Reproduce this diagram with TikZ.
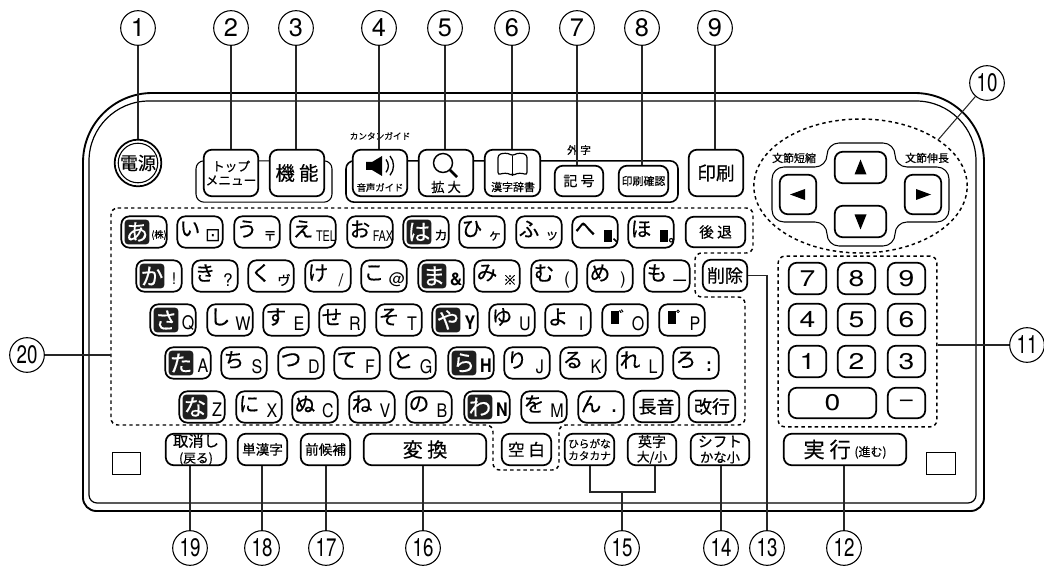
\documentclass[tikz,border=0pt]{standalone}
\usepackage{fontspec}
\setmainfont[FakeBold=0.4]{Noto Sans CJK JP}
\newfontfamily\latinfont{TeX Gyre Heros}
\newfontfamily\narrowfont[FakeStretch=0.74]{TeX Gyre Heros}
\newfontfamily\letterfont[FakeStretch=0.86]{TeX Gyre Heros}
\newfontfamily\widefont[FakeStretch=1.25]{TeX Gyre Heros}
\newfontfamily\symbolfont{DejaVu Sans}
\usetikzlibrary{shapes.geometric,positioning,calc}
\newcommand{\fs}[1]{\fontsize{#1}{#1}\selectfont}
\tikzset{
  bodyline/.style={line width=1.4pt, black},
  keybox/.style={rectangle, draw, line width=1.3pt, fill=white, rounded corners=6pt, inner sep=0pt, align=center, minimum width=34pt, minimum height=23.5pt},
  groupbox/.style={rectangle, draw, rounded corners=6pt, inner sep=0pt},
  dotarea/.style={line width=1.1pt, dash pattern=on 2.6pt off 2.4pt},
  kanatext/.style={inner sep=0pt, font=\fs{15.5}},
  subtext/.style={inner sep=0pt, font=\fs{11}},
  headmark/.style={rectangle, fill=black!88, text=white, rounded corners=2.5pt, inner sep=0pt, minimum size=18.5pt, font=\fs{17}},
  keytext/.style={inner sep=0pt, align=center},
  numcircle/.style={circle, draw, line width=.8pt, inner sep=0pt, minimum size=26pt, fill=white, font=\fs{19}},
  leader/.style={line width=.8pt, black!85}
}
% plain kana key: big kana upper left, small sign lower right
\newcommand{\kanakey}[4]{%
  \node[keybox] (key#1-#2) at (#1,#2) {};
  \node[kanatext] at ($(key#1-#2)+(-10,-3)$) {#3};
  \node[subtext] at ($(key#1-#2)+(13,4)$) {#4};
}
% key whose kana sits white on black
\newcommand{\headkey}[4]{%
  \node[keybox] (key#1-#2) at (#1,#2) {};
  \node[headmark] at ($(key#1-#2)+(-7,0)$) {#3};
  \node[subtext] at ($(key#1-#2)+(15,3)$) {#4};
}
% key with text, given by its corners in pixels
\newcommand{\widekey}[7]{%
  \node[keybox, minimum width={(#4-#2-1.5)*.75pt}, minimum height={(#5-#3-1.5)*.75pt}, font=\fs{#6}] (#1) at ({(#2+#4)/2},{(#3+#5)/2}) {#7};
}
\newcommand{\dakuten}[1]{\rule[-1pt]{6pt}{10pt}\rlap{\raisebox{1pt}{\fs{11}#1}}}
\newcommand{\smallmark}[1]{\rule{6.5pt}{9pt}\rlap{\fs{11}#1}\hspace{7.5pt}}
\begin{document}
\begin{tikzpicture}[x=.75pt, y=-.75pt]
\useasboundingbox (0,0) rectangle (1044,566);

% body
\draw[bodyline] (83,300) [rounded corners=52pt] -- (83,93) -- (984,93) -- (984,300) [rounded corners=10pt] -- (984,511) -- (83,511) -- cycle;
\draw[line width=.9pt] (89,300) [rounded corners=45pt] -- (89,101) -- (976,101) -- (976,300) [rounded corners=6pt] -- (976,503) -- (89,503) -- cycle;

% dotted areas
\draw[dotarea, rounded corners=5pt] (111,208) -- (753,208) -- (753,253) -- (695,253) -- (695,297) -- (745,297) -- (745,425) -- (559,425) -- (559,470) -- (493,470) -- (493,425) -- (111,425) -- cycle;
\coordinate (kanaarea) at (111,355);
\node[ellipse, draw, dotarea, minimum width=160pt, minimum height=100.5pt, inner sep=0pt] (dpadarea) at (860.5,186) {};
\node[rectangle, draw, dotarea, rounded corners=5pt, minimum width=119pt, minimum height=128pt, inner sep=0pt] (numarea) at (857.5,341.5) {};

% thin frames behind the top keys
\node[groupbox, line width=.8pt, minimum width=102pt, minimum height=31pt] (menugroup) at (264,181.5) {};
\node[groupbox, line width=1.2pt, minimum width=249pt, minimum height=31pt] (guidegroup) at (512,181.5) {};

% top row
\node[circle, draw, line width=1.3pt, fill=white, minimum size=35pt, inner sep=0pt] (power) at (138,163) {};
\node[circle, draw, line width=.8pt, minimum size=27pt, inner sep=0pt, font=\fs{13.5}] (powerin) at (138,163) {電源};
\widekey{topmenu}{203}{149}{259}{197}{9.5}{トップ\\[1pt]メニュー}
\widekey{funckey}{269}{149}{325}{197}{14.5}{機 能}
\widekey{voicekey}{352}{149}{408}{197}{7}{}
\widekey{zoomkey}{418}{149}{474}{197}{10}{}
\widekey{dictkey}{484}{149}{541}{197}{8}{}
\widekey{signkey}{554}{165}{604}{197}{10.5}{記 号}
\widekey{checkkey}{618}{165}{669}{197}{8.2}{印刷確認}
\widekey{printkey}{688}{149}{744}{197}{14}{印刷}
\node[keytext, font=\fs{7}] (voicetext) at (380,187.5) {音声ガイド};
\node[keytext, font=\fs{10}] (zoomtext) at (446,187) {拡 大};
\node[keytext, font=\fs{8.2}] (dicttext) at (513,187) {漢字辞書};
\node[keytext, font=\fs{6.5}] (guidetitle) at (380,136) {カンタンガイド};
\node[keytext, font=\fs{8}] (gaijititle) at (579,150) {外 字};

% speaker, lens and book
\fill (366,162) -- (372,162) -- (382,156) -- (382,176) -- (372,170) -- (366,170) -- cycle;
\draw[line width=1pt] (386,159.5) arc[start angle=-40, end angle=40, radius=10];
\draw[line width=1pt] (390,156) arc[start angle=-40, end angle=40, radius=15];
\draw[line width=1.1pt] (443,163) circle[radius=9.5];
\draw[line width=2pt] (450,170) -- (457,177);
\draw[line width=.9pt, rounded corners=2pt] (512.5,176) .. controls (508,173) and (503,173) .. (498,175) -- (498,155) .. controls (503,153) and (508,153) .. (512.5,156) .. controls (517,153) and (522,153) .. (527,155) -- (527,175) .. controls (522,173) and (517,173) .. (512.5,176) -- cycle;
\draw[line width=.9pt] (512.5,156) -- (512.5,176);

% kana rows
\headkey{144}{232}{あ}{\fs{7}(株)}
\headkey{426}{232}{は}{\fs{10}カ}
\foreach \kx/\kkana/\ksub in {200/い/{\symbolfont\fs{14}⊡}, 257/う/{\fs{10}〒}, 313/え/{\narrowfont\fs{11}TEL}, 370/お/{\narrowfont\fs{11}FAX}, 482/ひ/{\fs{10}ヶ}, 539/ふ/{\fs{10}ッ}} {
  \kanakey{\kx}{232}{\kkana}{\ksub}
}
\kanakey{595}{232}{へ}{\smallmark{、}}
\kanakey{651}{232}{ほ}{\smallmark{。}}
\widekey{backkey}{685}{216}{746}{248}{11}{後 退}

\headkey{159}{276}{か}{\latinfont\fs{12}!}
\headkey{441}{276}{ま}{\textbf{\latinfont\fs{13}\&}}
\foreach \kx/\kkana/\ksub in {215/き/{\latinfont\fs{13}?}, 271/く/{\fs{10}ヴ}, 328/け/{\latinfont\fs{13}/}, 384/こ/{\latinfont\fs{12}@}, 497/み/{\fs{10}※}, 554/む/{\latinfont\fs{13}(}, 610/め/{\latinfont\fs{13})}, 667/も/{\textbf{\latinfont\fs{16}\_}}} {
  \kanakey{\kx}{276}{\kkana}{\ksub}
}
\widekey{delkey}{702}{259}{748}{292}{13.5}{削除}

\headkey{173}{320}{さ}{\letterfont\fs{14}Q}
\headkey{455}{320}{や}{\textbf{\letterfont\fs{14}Y}}
\foreach \kx/\kkana/\ksub in {230/し/W, 286/す/E, 342/せ/R, 399/そ/T, 512/ゆ/U, 568/よ/I, 625/\dakuten{゛}/O, 682/\dakuten{゜}/P} {
  \kanakey{\kx}{320}{\kkana}{\letterfont\fs{14}\ksub}
}

\headkey{188}{363}{た}{\letterfont\fs{14}A}
\headkey{471}{363}{ら}{\textbf{\letterfont\fs{14}H}}
\foreach \kx/\kkana/\ksub in {244/ち/S, 301/つ/D, 357/て/F, 413/と/G, 527/り/J, 583/る/K, 640/れ/L, 696/ろ/{\textbf{:}}} {
  \kanakey{\kx}{363}{\kkana}{\letterfont\fs{14}\ksub}
}

\headkey{202}{407}{な}{\letterfont\fs{14}Z}
\headkey{487}{407}{わ}{\textbf{\letterfont\fs{14}N}}
\foreach \kx/\kkana/\ksub in {259/に/X, 315/ぬ/C, 372/ね/V, 429/の/B, 544/を/M, 601/ん/{\textbf{.}}} {
  \kanakey{\kx}{407}{\kkana}{\letterfont\fs{14}\ksub}
}
\widekey{longkey}{633}{390}{680}{423}{13.5}{長音}
\widekey{enterkey}{688}{390}{736}{423}{13.5}{改行}

% bottom row
\widekey{cancelkey}{165}{433}{227}{466}{11.5}{取消し\\[.5pt]\fs{9.5}(戻る)}
\widekey{singlekey}{237}{433}{288}{466}{10.2}{単漢字}
\widekey{prevkey}{300}{433}{351}{466}{10.2}{前候補}
\widekey{convkey}{363}{433}{487}{466}{15}{変 換}
\widekey{spacekey}{501}{433}{552}{466}{12.5}{空 白}
\widekey{hirakey}{564}{433}{615}{466}{8}{ひらがな\\[1pt]カタカナ}
\widekey{eikey}{627}{433}{677}{466}{10.5}{英字\\[.5pt]\fs{9.5}大/小}
\widekey{shiftkey}{690}{433}{750}{466}{11}{シフト\\[.5pt]\fs{10}かな小}
\widekey{runkey}{783}{433}{907}{466}{16}{実 行\,\raisebox{1pt}{\fs{9}(進む)}}
\node[rectangle, draw, line width=.8pt, minimum width=21.5pt, minimum height=17pt, inner sep=0pt] (lamp1) at (126.5,463.5) {};
\node[rectangle, draw, line width=.8pt, minimum width=21.5pt, minimum height=17pt, inner sep=0pt] (lamp2) at (941,463.5) {};

% cursor pad
\draw[line width=.8pt, rounded corners=9pt] (772,167) -- (827,167) -- (827,143) -- (895,143) -- (895,167) -- (949,167) -- (949,222) -- (895,222) -- (895,246) -- (827,246) -- (827,222) -- (772,222) -- cycle;
\widekey{upkey}{834}{151}{887}{184}{8}{}
\widekey{downkey}{834}{205}{887}{238}{8}{}
\widekey{leftkey}{779}{174}{817}{215}{8}{}
\widekey{rightkey}{904}{174}{942}{215}{8}{}
\fill ($(upkey)+(0,-8)$) -- ($(upkey)+(6,7)$) -- ($(upkey)+(-6,7)$) -- cycle;
\fill ($(downkey)+(0,8)$) -- ($(downkey)+(6,-7)$) -- ($(downkey)+(-6,-7)$) -- cycle;
\fill ($(leftkey)+(-8,0)$) -- ($(leftkey)+(7,-5.5)$) -- ($(leftkey)+(7,5.5)$) -- cycle;
\fill ($(rightkey)+(8,0)$) -- ($(rightkey)+(-7,-5.5)$) -- ($(rightkey)+(-7,5.5)$) -- cycle;
\node[keytext, font=\fs{8.2}] (shorttext) at (794,158) {文節短縮};
\node[keytext, font=\fs{8.2}] (longtext) at (927,158) {文節伸長};

% number pad
\foreach \nx/\nl in {788/7, 837/8, 887/9} {\widekey{num\nl}{\nx}{262}{\the\numexpr\nx+39\relax}{295}{17}{\widefont\nl}}
\foreach \nx/\nl in {788/4, 837/5, 887/6} {\widekey{num\nl}{\nx}{303}{\the\numexpr\nx+39\relax}{336}{17}{\widefont\nl}}
\foreach \nx/\nl in {788/1, 837/2, 887/3} {\widekey{num\nl}{\nx}{345}{\the\numexpr\nx+39\relax}{378}{17}{\widefont\nl}}
\widekey{num0}{788}{387}{877}{419}{17}{\widefont 0}
\widekey{minuskey}{887}{387}{926}{419}{17}{\widefont −}

% numbered labels
\foreach \nname/\nx/\ny/\ntext in {n1/138/28/1, n2/231/28/2, n3/296/28/3, n4/379/28/4, n5/445/28/5, n6/512/28/6, n7/577/28/7, n8/642/28/8, n9/715/28/9} {
  \node[numcircle] (\nname) at (\nx,\ny) {\latinfont\ntext};
}
\foreach \nname/\nx/\ny/\ntext in {n10/987/83/10, n11/1027/345/11, n12/844/548/12, n13/767/548/13, n14/721/548/14, n15/622/548/15, n16/423/548/16, n17/326/548/17, n18/262/548/18, n19/190/548/19, n20/27/355/20} {
  \node[numcircle] (\nname) at (\nx,\ny) {\narrowfont\ntext};
}
\draw[leader] (n1) -- (power);
\draw[leader] (n2) -- (n2 |- topmenu.north);
\draw[leader] (n3) -- (n3 |- funckey.north);
\draw[leader] (n4) -- (n4 |- voicekey.north);
\draw[leader] (n5) -- (n5 |- zoomkey.north);
\draw[leader] (n6) -- (n6 |- dictkey.north);
\draw[leader] (n7) -- (n7 |- signkey.north);
\draw[leader] (n8) -- (n8 |- checkkey.north);
\draw[leader] (n9) -- (n9 |- printkey.north);
\coordinate (dpadtip) at (938,140);
\draw[leader] (n10) -- (dpadtip);
\draw[leader] (n11) -- (n11 -| numarea.east);
\draw[leader] (n12) -- (n12 |- runkey.south);
\draw[leader] (delkey.east) -| (n13);
\draw[leader] (n14) -- (n14 |- shiftkey.south);
\coordinate (kanajoin) at (622,492);
\draw[leader] (n15) -- (kanajoin);
\draw[leader] (hirakey.south -| 590,0) |- (kanajoin) -| (eikey.south -| 655,0);
\draw[leader] (n16) -- (n16 |- convkey.south);
\draw[leader] (n17) -- (n17 |- prevkey.south);
\draw[leader] (n18) -- (n18 |- singlekey.south);
\draw[leader] (n19) -- (n19 |- cancelkey.south);
\draw[leader] (n20) -- (n20 -| kanaarea);
\end{tikzpicture}
\end{document}
